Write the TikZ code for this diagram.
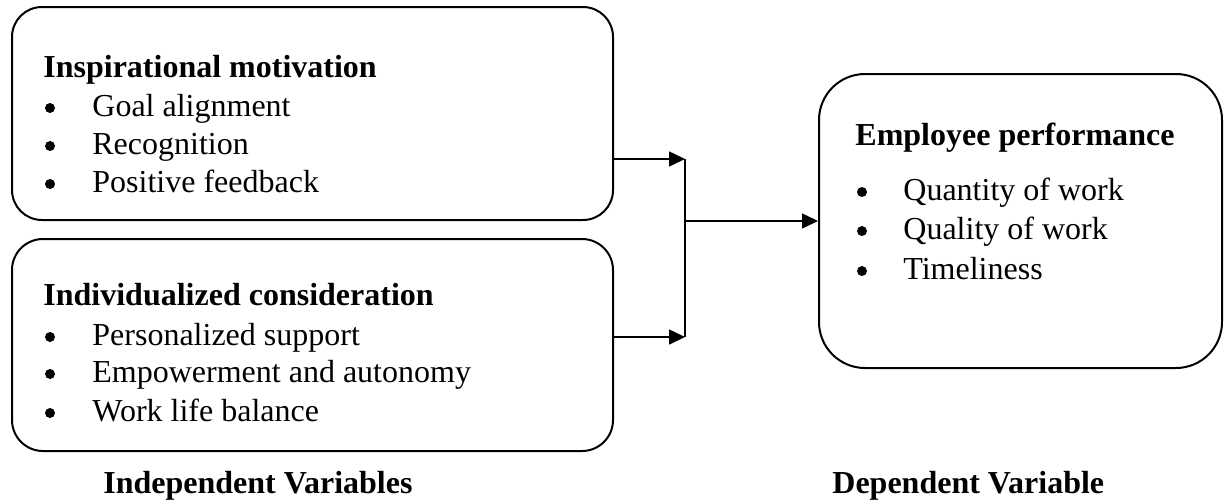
\documentclass[tikz,border=0pt]{standalone}
\usepackage{fontspec}
\setmainfont{Liberation Serif}
\usetikzlibrary{arrows.meta}
\begin{document}
\begin{tikzpicture}[x=0.5pt,y=-0.5pt,
  box/.style={draw,line width=1pt,inner sep=0pt},
  txt/.style={anchor=base west,inner sep=0pt,font=\fontsize{16}{19}\selectfont},
  ttl/.style={txt,font=\fontsize{16}{19}\selectfont\bfseries},
  bul/.style={circle,fill,inner sep=0pt,minimum size=5pt},
  arr/.style={line width=0.75pt,-{Triangle[length=8pt,width=7.5pt]}}]
\useasboundingbox (0,0) rectangle (1224,499);
% boxes
\node[box,rounded corners=15pt,minimum width=300.5pt,minimum height=106.5pt] (box1) at (312.5,113.5) {};
\node[box,rounded corners=15.5pt,minimum width=300.5pt,minimum height=106pt] (box2) at (312.5,345) {};
\node[box,rounded corners=23pt,minimum width=201.5pt,minimum height=147pt] (box3) at (1020.5,221) {};
% box 1 text
\node[ttl] (t1) at (43,77) {Inspirational motivation};
\node[bul] (b11) at (50,108) {}; \node[txt] (i11) at (92,116) {Goal alignment};
\node[bul] (b12) at (50,146) {}; \node[txt] (i12) at (92,154) {Recognition};
\node[bul] (b13) at (50,184) {}; \node[txt] (i13) at (92,192) {Positive feedback};
% box 2 text
\node[ttl] (t2) at (43,305) {Individualized consideration};
\node[bul] (b21) at (50,337) {}; \node[txt] (i21) at (92,345) {Personalized support};
\node[bul] (b22) at (50,374) {}; \node[txt] (i22) at (92,382) {Empowerment and autonomy};
\node[bul] (b23) at (50,413) {}; \node[txt] (i23) at (92,421) {Work life balance};
% box 3 text
\node[ttl] (t3) at (855,145) {Employee performance};
\node[bul] (b31) at (862,192) {}; \node[txt] (i31) at (903,200) {Quantity of work};
\node[bul] (b32) at (862,231) {}; \node[txt] (i32) at (903,239) {Quality of work};
\node[bul] (b33) at (862,271) {}; \node[txt] (i33) at (903,279) {Timeliness};
% labels
\node[ttl] (l1) at (103,493) {Independent Variables};
\node[ttl] (l2) at (832,493) {Dependent Variable};
% connectors
\coordinate (j1) at (685,159);
\coordinate (j2) at (685,337);
\draw[arr] (box1.east |- j1) -- (j1);
\draw[arr] (box2.east |- j2) -- (j2);
\draw[line width=1pt] (j1) -- (j2);
\draw[arr] (j1 |- box3.west) -- (box3.west);
\end{tikzpicture}
\end{document}
